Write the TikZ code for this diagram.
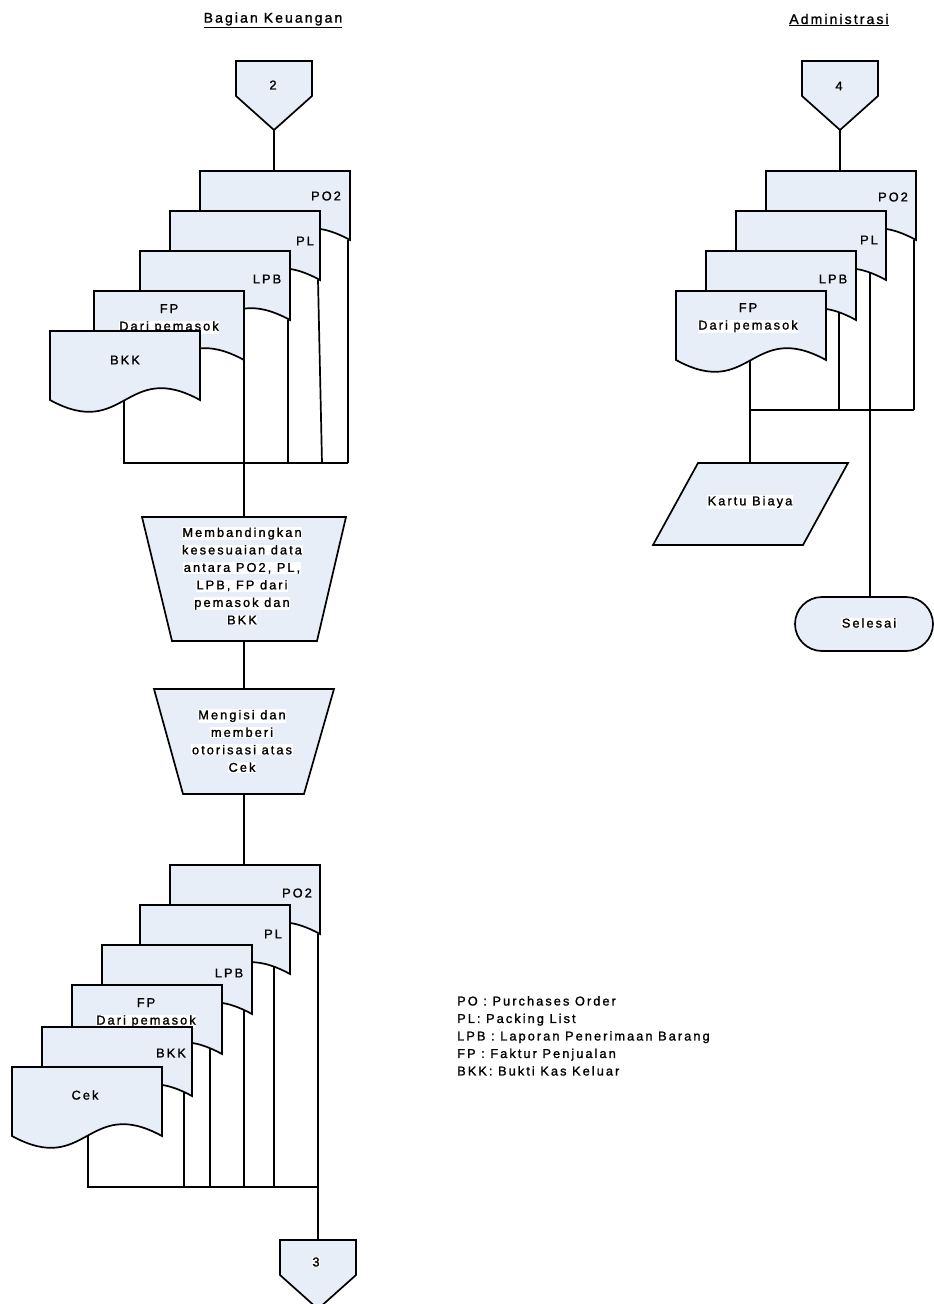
\documentclass[tikz,border=0pt]{standalone}
\usepackage{fontspec}
\setmainfont{Liberation Sans}[LetterSpace=16,FakeBold=1.3]
\newfontfamily\headfont{Liberation Sans}[LetterSpace=15,FakeBold=1.3]
\definecolor{docfill}{RGB}{232,238,247}

% white band behind a line of text
\newcommand\wbg[1]{{\setlength{\fboxsep}{0.6pt}\colorbox{white}{#1}}}

% document symbol: left x, top y (width 150, wavy bottom)
\newcommand\docat[2]{%
  \draw[shp] (#1,#2) -- ({#1+150},#2) -- ({#1+150},{#2+69})
    .. controls ({#1+75},{#2+28}) and ({#1+75},{#2+110}) .. (#1,{#2+69}) -- cycle;}

% off-page connector: centre x, top y
\newcommand\offpg[2]{%
  \draw[shp] ({#1-38},#2) -- ({#1+38},#2) -- ({#1+38},{#2+35}) -- (#1,{#2+69})
    -- ({#1-38},{#2+35}) -- cycle;}

\tikzset{
  shp/.style={draw=black, line width=1.7pt, fill=docfill, line join=miter},
  wire/.style={draw=black, line width=1.7pt},
  lbl/.style={inner sep=0pt, font=\fontsize{12.8}{17.5}\selectfont},
  hd/.style={inner sep=0pt, font=\headfont\fontsize{14}{17}\selectfont},
}

\begin{document}
\begin{tikzpicture}[x=1pt,y=-1pt]
\fill[white] (0,0) rectangle (934,1304);
\useasboundingbox (0,0) rectangle (934,1304);

% ---------- column headers
\node[hd] (hkeu) at (273,20) {\underline{Bagian Keuangan}};
\node[hd] (hadm) at (839,20) {\underline{Administrasi}};

% ---------- connection points
% Bagian Keuangan, upper stack
\coordinate (c2tip)    at (274,130);
\coordinate (kpo-top)  at (274,171);
\coordinate (kpo-br)   at (348,240);
\coordinate (kpo-end)  at (348,463);
\coordinate (kpl-br)   at (318,280);
\coordinate (kpl-end)  at (322,463);
\coordinate (klpb-br)  at (288,320);
\coordinate (klpb-end) at (288,463);
\coordinate (kfp-br)   at (244,360);
\coordinate (kbkk-w)   at (124,395);
\coordinate (kbkk-end) at (124,463);
% processes
\coordinate (cmp-top)  at (244,517);
\coordinate (cmp-bot)  at (244,641);
\coordinate (chk-top)  at (244,689);
\coordinate (chk-bot)  at (244,794);
% Bagian Keuangan, lower stack
\coordinate (bpo-top)  at (244,865);
\coordinate (bpo-br)   at (318,934);
\coordinate (bpo-end)  at (318,1187);
\coordinate (c3top)    at (318,1240);
\coordinate (bpl-w)    at (274,960);
\coordinate (bpl-end)  at (274,1187);
\coordinate (blpb-w)   at (244,1000);
\coordinate (blpb-end) at (244,1187);
\coordinate (bfp-w)    at (210,1040);
\coordinate (bfp-end)  at (210,1187);
\coordinate (bbkk-w)   at (184,1085);
\coordinate (bbkk-end) at (184,1187);
\coordinate (bcek-w)   at (88,1130);
\coordinate (bcek-end) at (88,1187);
% Administrasi
\coordinate (c4tip)    at (840,130);
\coordinate (rpo-top)  at (840,171);
\coordinate (rpo-br)   at (914,240);
\coordinate (rpo-end)  at (914,410);
\coordinate (rpl-w)    at (870,265);
\coordinate (sel-top)  at (870,597);
\coordinate (rlpb-w)   at (839,300);
\coordinate (rlpb-end) at (839,410);
\coordinate (rfp-w)    at (750,340);
\coordinate (rfp-end)  at (750,410);
\coordinate (kb-top)   at (750,463);

% ---------- connectors (drawn beneath the symbols)
\draw[wire] (c2tip) -- (kpo-top);
\draw[wire] (kpo-br) -- (kpo-end);
\draw[wire] (kpl-br) -- (kpl-end);
\draw[wire] (klpb-br) -- (klpb-end);
\draw[wire] (kfp-br) -- (cmp-top);
\draw[wire] (kbkk-w) -- (kbkk-end) -- (kpo-end);
\draw[wire] (cmp-bot) -- (chk-top);
\draw[wire] (chk-bot) -- (bpo-top);

\draw[wire] (bpo-br) -- (c3top);
\draw[wire] (bpl-w) -- (bpl-end);
\draw[wire] (blpb-w) -- (blpb-end);
\draw[wire] (bfp-w) -- (bfp-end);
\draw[wire] (bbkk-w) -- (bbkk-end);
\draw[wire] (bcek-w) -- (bcek-end) -- (bpo-end);

\draw[wire] (c4tip) -- (rpo-top);
\draw[wire] (rpo-br) -- (rpo-end);
\draw[wire] (rpl-w) -- (sel-top);
\draw[wire] (rlpb-w) -- (rlpb-end);
\draw[wire] (rfp-w) -- (kb-top);
\draw[wire] (rfp-end) -- (rpo-end);

% ---------- Bagian Keuangan: incoming documents
\offpg{274}{61}
\node[lbl] (n2) at (273,85) {2};
\docat{200}{171}
\node[lbl] (kpo) at (326,196) {PO2};
\docat{170}{211}
\node[lbl] (kpl) at (305,241) {PL};
\docat{140}{251}
\node[lbl] (klpb) at (267,279) {LPB};
\docat{94}{291}
\node[lbl, align=center] (kfp) at (169,319) {FP\\\wbg{Dari pemasok}};
\docat{50}{331}
\node[lbl] (kbkk) at (125,360) {BKK};

% ---------- processes
\draw[shp] (142,517) -- (346,517) -- (317,641) -- (172,641) -- cycle;
\node[lbl, align=center] (cmp) at (242,576)
  {\wbg{Membandingkan}\\\wbg{kesesuaian data}\\\wbg{antara PO2, PL,}\\
   \wbg{LPB, FP dari}\\\wbg{pemasok dan}\\\wbg{BKK}};
\draw[shp] (154,689) -- (334,689) -- (304,794) -- (183,794) -- cycle;
\node[lbl, align=center] (chk) at (242,741)
  {\wbg{Mengisi dan}\\\wbg{memberi}\\\wbg{otorisasi atas}\\\wbg{Cek}};

% ---------- Bagian Keuangan: outgoing documents
\docat{170}{865}
\node[lbl] (bpo) at (297,893) {PO2};
\docat{140}{905}
\node[lbl] (bpl) at (273,934) {PL};
\docat{102}{945}
\node[lbl] (blpb) at (229,973) {LPB};
\docat{72}{985}
\node[lbl, align=center] (bfp) at (146,1013) {FP\\\wbg{Dari pemasok}};
\docat{42}{1027}
\node[lbl] (bbkk) at (171,1053) {BKK};
\docat{12}{1067}
\node[lbl] (bcek) at (85,1095) {Cek};
\offpg{318}{1240}
\node[lbl] (n3) at (316,1262) {\wbg{3}};

% ---------- Administrasi
\offpg{840}{61}
\node[lbl] (n4) at (839,86) {4};
\docat{766}{171}
\node[lbl] (rpo) at (893,197) {PO2};
\docat{736}{211}
\node[lbl] (rpl) at (869,240) {PL};
\docat{706}{251}
\node[lbl] (rlpb) at (833,279) {LPB};
\docat{676}{291}
\node[lbl, align=center] (rfp) at (748,318) {FP\\\wbg{Dari pemasok}};

\draw[shp] (698,463) -- (848,463) -- (803,545) -- (653,545) -- cycle;
\node[lbl] (kb) at (750,502) {\wbg{Kartu Biaya}};

\draw[shp, rounded corners=27pt] (795,597) rectangle (933,651);
\node[lbl] (sel) at (869,623) {\wbg{Selesai}};

% ---------- abbreviations
\node[lbl, align=left, anchor=north west] (legend) at (457,996)
  {PO : Purchases Order\\PL: Packing List\\LPB : Laporan Penerimaan Barang\\
   FP : Faktur Penjualan\\BKK: Bukti Kas Keluar};
\end{tikzpicture}
\end{document}
